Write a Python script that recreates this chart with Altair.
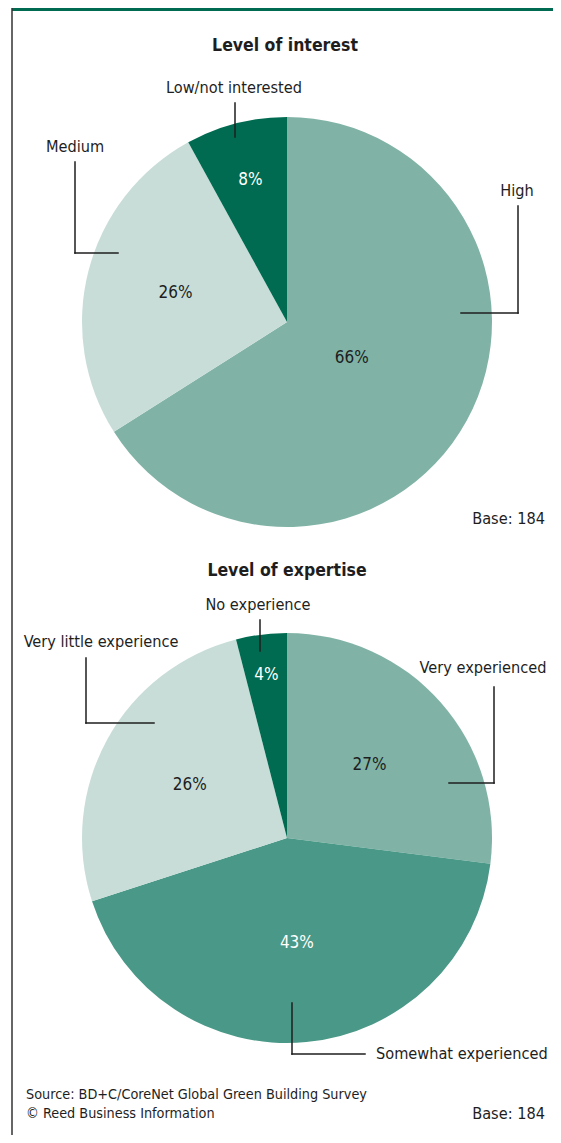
import altair as alt
import pandas as pd

# ---------------- data ----------------
interest_categories = ["High", "Medium", "Low/not interested"]
interest_values = [66, 26, 8]

expertise_categories = ["Very experienced", "Somewhat experienced",
                        "Very little experience", "No experience"]
expertise_values = [27, 43, 26, 4]

panel_titles = ["Level of interest", "Level of expertise"]
base_note = "Base: 184"
source_notes = ["Source: BD+C/CoreNet Global Green Building Survey",
                "\u00a9 Reed Business Information"]

# ---------------- styles ----------------
FONT = "DejaVu Sans Condensed, DejaVu Sans, sans-serif"
INK = "#1e1e1e"
DARK = "#006b50"
MID = "#4a9887"
LIGHTMID = "#80b3a6"
LIGHT = "#c8ddd8"
OFF = 8  # page margin
LBL = 16.2

palette = {
    "High": LIGHTMID, "Medium": LIGHT, "Low/not interested": DARK,
    "Very experienced": LIGHTMID, "Somewhat experienced": MID,
    "Very little experience": LIGHT, "No experience": DARK,
}
color_scale = alt.Scale(domain=list(palette.keys()), range=list(palette.values()))
theta_scale = alt.Scale(domain=[0, 100])
ONE = pd.DataFrame({"k": [0]})


def pie(cats, vals, cx, cy, r, label_style):
    df = pd.DataFrame({"category": cats, "value": vals, "order": list(range(len(cats)))})
    base = alt.Chart(df)
    out = [base.mark_arc(outerRadius=r).encode(
        theta=alt.Theta("value:Q", stack=True, scale=theta_scale),
        color=alt.Color("category:N", scale=color_scale, legend=None),
        order=alt.Order("order:Q", sort="ascending"),
        x=alt.value(cx - OFF), y=alt.value(cy - OFF),
    )]
    for cat, (radius, col) in label_style.items():
        out.append(
            base.transform_window(cum="sum(value)", sort=[alt.SortField("order")])
            .transform_calculate(mid="datum.cum - datum.value / 2",
                                 pct="datum.value + '%'")
            .transform_filter(alt.datum.category == cat)
            .mark_text(radius=radius, font=FONT, fontSize=17, color=col)
            .encode(theta=alt.Theta("mid:Q", scale=theta_scale),
                    text="pct:N",
                    x=alt.value(cx - OFF), y=alt.value(cy - OFF))
        )
    return out


def label(text, x, y, size=LBL, align="center", weight="normal"):
    return alt.Chart(pd.DataFrame({"t": [text]})).mark_text(
        font=FONT, fontSize=size, align=align, baseline="middle",
        fontWeight=weight, color=INK
    ).encode(text="t:N", x=alt.value(x - OFF), y=alt.value(y - OFF))


def leader(points):
    segs = []
    for (x1, y1), (x2, y2) in zip(points[:-1], points[1:]):
        segs.append(alt.Chart(ONE).mark_rule(color=INK, strokeWidth=1.5, strokeCap="square").encode(
            x=alt.value(x1 - OFF), y=alt.value(y1 - OFF),
            x2=alt.value(x2 - OFF), y2=alt.value(y2 - OFF)))
    return segs


layers = []
# frame: green banner + left border
layers.append(alt.Chart(ONE).mark_rect(color=DARK).encode(
    x=alt.value(12 - OFF), x2=alt.value(553), y=alt.value(0), y2=alt.value(3)))
layers.append(alt.Chart(ONE).mark_rule(color="#333333", strokeWidth=1.5).encode(
    x=alt.value(12 - OFF), y=alt.value(0), y2=alt.value(1143)))

# pie 1
layers += pie(interest_categories, interest_values, 287, 322, 205, {
    "High": (74, INK), "Medium": (115, INK), "Low/not interested": (147, "white")})
# pie 2
layers += pie(expertise_categories, expertise_values, 287, 838, 205, {
    "Very experienced": (110, INK), "Somewhat experienced": (105, "white"),
    "Very little experience": (111, INK), "No experience": (164, "white")})

# titles
layers.append(label(panel_titles[0], 285, 46, size=17.5, weight="bold"))
layers.append(label(panel_titles[1], 287, 571, size=17.5, weight="bold"))

# category labels + leaders (pie 1)
layers.append(label(interest_categories[2], 234, 88))
layers += leader([(235, 103), (235, 137)])
layers.append(label(interest_categories[1], 75, 147))
layers += leader([(75, 162), (75, 253), (118, 253)])
layers.append(label(interest_categories[0], 517, 191))
layers += leader([(518, 206), (518, 313), (461, 313)])
layers.append(label(base_note, 545, 519, align="right"))

# category labels + leaders (pie 2)
layers.append(label(expertise_categories[3], 258, 605))
layers += leader([(260, 620), (260, 651)])
layers.append(label(expertise_categories[2], 101, 642))
layers += leader([(86, 658), (86, 723), (154, 723)])
layers.append(label(expertise_categories[0], 483, 668))
layers += leader([(494, 687), (494, 783), (449, 783)])
layers.append(label(expertise_categories[1], 376, 1054, align="left"))
layers += leader([(292, 1003), (292, 1054), (365, 1054)])

# footer
layers.append(label(source_notes[0], 26, 1095, size=14.3, align="left"))
layers.append(label(source_notes[1], 26, 1114, size=14.3, align="left"))
layers.append(label(base_note, 545, 1114, align="right"))

chart = alt.layer(*layers).properties(
    width=545, height=1127, background="white", padding=0,
    autosize=alt.AutoSizeParams(type="none"),
).configure_view(strokeOpacity=0)

chart.save("out.html", embed_options={"renderer": "svg", "actions": False})
